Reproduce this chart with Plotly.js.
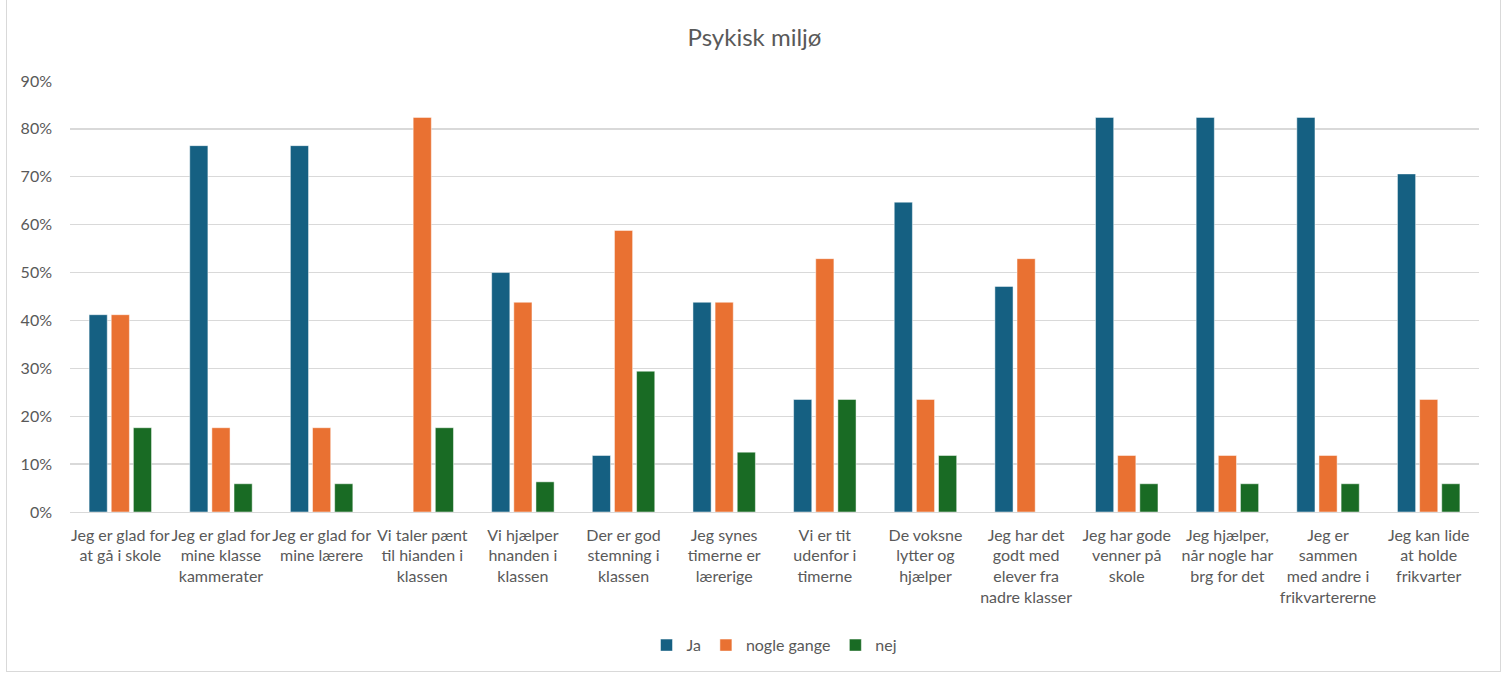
<!DOCTYPE html>
<html>
<head>
<meta charset="utf-8">
<script src="https://cdn.plot.ly/plotly-3.0.1.min.js"></script>
<style>
html,body{margin:0;padding:0;background:#fff;}
#frame{position:absolute;left:6px;top:-1px;width:1495px;height:673px;border:1px solid #d9d9d9;box-sizing:border-box;}
#chart{position:absolute;left:0;top:0;width:1509px;height:675px;}
</style>
</head>
<body>
<div id="frame"></div>
<div id="chart"></div>
<script>
const categories = [
  "Jeg er glad for<br>at gå i skole",
  "Jeg er glad for<br>mine klasse<br>kammerater",
  "Jeg er glad for<br>mine lærere",
  "Vi taler pænt<br>til hianden i<br>klassen",
  "Vi hjælper<br>hnanden i<br>klassen",
  "Der er god<br>stemning i<br>klassen",
  "Jeg synes<br>timerne er<br>lærerige",
  "Vi er tit<br>udenfor i<br>timerne",
  "De voksne<br>lytter og<br>hjælper",
  "Jeg har det<br>godt med<br>elever fra<br>nadre klasser",
  "Jeg har gode<br>venner på<br>skole",
  "Jeg hjælper,<br>når nogle har<br>brg for det",
  "Jeg er<br>sammen<br>med andre i<br>frikvartererne",
  "Jeg kan lide<br>at holde<br>frikvarter"
];
const ja    = [41.2, 76.5, 76.5, 0,    50.0, 11.8, 43.8, 23.5, 64.7, 47.1, 82.4, 82.4, 82.4, 70.6];
const nogle = [41.2, 17.6, 17.6, 82.4, 43.8, 58.8, 43.8, 52.9, 23.5, 52.9, 11.8, 11.8, 11.8, 23.5];
const nej   = [17.6, 5.9,  5.9,  17.6, 6.3,  29.4, 12.5, 23.5, 11.8, 0,    5.9,  5.9,  5.9,  5.9];
const seriesNames = ["Ja", "nogle gange", "nej"];
const yTicks = [0, 10, 20, 30, 40, 50, 60, 70, 80, 90];

const colors = ["#156082", "#E97132", "#196B24"];
const font = "Lato, 'Noto Sans', sans-serif";
const vals = [ja, nogle, nej];
const data = vals.map((v, i) => ({
  type: "bar",
  name: seriesNames[i],
  x: categories,
  y: v,
  marker: {color: colors[i], line: {color: "rgba(255,255,255,0.6)", width: 0.8}},
  hoverinfo: "y+name"
}));

const layout = {
  width: 1509, height: 675,
  margin: {l: 70, r: 30, t: 81, b: 163},
  paper_bgcolor: "rgba(0,0,0,0)",
  plot_bgcolor: "#fff",
  barmode: "group",
  bargap: 0.34,
  bargroupgap: 0.18,
  title: {text: "Psykisk miljø", x: 0.5, xanchor: "center", y: 0.945, yanchor: "middle",
          font: {family: font, size: 24, color: "#595959"}},
  xaxis: {
    type: "category",
    tickfont: {family: font, size: 16, color: "#595959"},
    showline: true, linecolor: "#d9d9d9", linewidth: 1.3,
    ticks: "", showgrid: false, tickangle: 0, automargin: false,
    ticklabelstandoff: 8
  },
  yaxis: {
    range: [0, 90],
    tickvals: yTicks,
    ticktext: yTicks.map(t => t + "%"),
    tickfont: {family: font, size: 16, color: "#595959"},
    gridcolor: "#d9d9d9", gridwidth: 1.3,
    zeroline: false, showline: false, ticks: "",
    ticklabelstandoff: 17, automargin: false
  },
  legend: {
    orientation: "h", x: 0.5, xanchor: "center", y: -0.309, yanchor: "middle",
    font: {family: font, size: 16, color: "#595959"},
    traceorder: "normal", itemwidth: 30
  },
  showlegend: true
};

Plotly.newPlot("chart", data, layout, {displayModeBar: false, staticPlot: true});
</script>
</body>
</html>
